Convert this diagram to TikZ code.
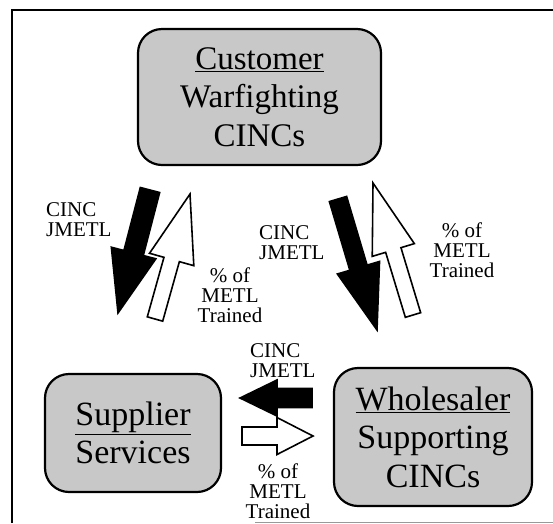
\documentclass[tikz,border=0pt]{standalone}
\usepackage{fontspec}
\setmainfont{Liberation Serif}
\usetikzlibrary{calc}
\newcommand{\boxFont}[0]{\fontsize{34}{38.5}\selectfont}
\newcommand{\labelFont}[0]{\fontsize{21}{20}\selectfont}
\newcommand{\metl}[0]{\%\ of\\METL\\Trained}
\newcommand{\jmetl}[0]{CINC\\JMETL}
% block arrow: style, tail, tip, shaft half width, head half width, head length
\newcommand{\blockArrow}[6]{%
  \coordinate (hb) at ($(#3)!#6!(#2)$);
  \draw[#1] ($(#2)!#4!90:(#3)$) -- ($(hb)!#4!90:(#3)$) -- ($(hb)!#5!90:(#3)$)
    -- (#3) -- ($(hb)!#5!-90:(#3)$) -- ($(hb)!#4!-90:(#3)$) -- ($(#2)!#4!-90:(#3)$) -- cycle;
}
\definecolor{halftone}{HTML}{C8C8C8}
\begin{document}
\begin{tikzpicture}[x=1pt, y=-1pt]
  \tikzset{entity/.style={draw, line width=2.2pt, rounded corners=24pt, fill=halftone,
      align=center, font=\boxFont, inner sep=0pt},
    flowlabel/.style={font=\labelFont, inner sep=0pt},
    demand/.style={fill=black, draw=black, line width=1.6pt, line join=miter},
    feedback/.style={fill=white, draw=black, line width=1.6pt, line join=miter}}
  \useasboundingbox (0,0) rectangle (553,523);
  \draw[line width=2.5pt] (12,523) -- (12,10) -- (553,10);
  \draw[line width=1pt, black!40] (255,522) -- (553,522);
  \node[entity, minimum width=243pt, minimum height=136pt,
    font=\fontsize{33}{38.5}\selectfont] (customer) at (259.5,97)
    {\underline{Customer}\\Warfighting\\CINCs};
  \node[entity, minimum width=176pt, minimum height=118pt] (supplier) at (133,433)
    {\underline{Supplier}\\Services};
  \node[entity, minimum width=198pt, minimum height=138pt] (wholesaler) at (433,437)
    {\underline{Wholesaler}\\Supporting\\CINCs};
  % tails and tips
  \coordinate (csTail) at (150,190);
  \coordinate (csTip) at (118,313);
  \coordinate (scTail) at (155,319);
  \coordinate (scTip) at (190,194);
  \coordinate (cwTail) at (338,199);
  \coordinate (cwTip) at (377,330);
  \coordinate (wcTail) at (413,315);
  \coordinate (wcTip) at (373,183);
  \coordinate (wsTail) at (312,398);
  \coordinate (wsTip) at (240,398);
  \coordinate (swTail) at (242,436);
  \coordinate (swTip) at (313,436);
  \blockArrow{demand}{csTail}{csTip}{10pt}{23pt}{62pt}
  \blockArrow{feedback}{scTail}{scTip}{8pt}{23pt}{68pt}
  \blockArrow{demand}{cwTail}{cwTip}{9pt}{22pt}{65pt}
  \blockArrow{feedback}{wcTail}{wcTip}{8pt}{22pt}{70pt}
  \blockArrow{demand}{wsTail}{wsTip}{9.5pt}{18pt}{37pt}
  \blockArrow{feedback}{swTail}{swTip}{9pt}{18.5pt}{36pt}
  % labels
  \node[flowlabel, align=left, anchor=north west] (csLabel) at (46,202) {\jmetl};
  \node[flowlabel, align=center, anchor=north] (scLabel) at (230,268) {\metl};
  \node[flowlabel, align=left, anchor=north west] (cwLabel) at (259,225) {\jmetl};
  \node[flowlabel, align=center, anchor=north] (wcLabel) at (462,223) {\metl};
  \node[flowlabel, align=left, anchor=north west] (wsLabel) at (250,343) {\jmetl};
  \node[flowlabel, align=center, anchor=north] (swLabel) at (278,463) {\metl};
\end{tikzpicture}
\end{document}
